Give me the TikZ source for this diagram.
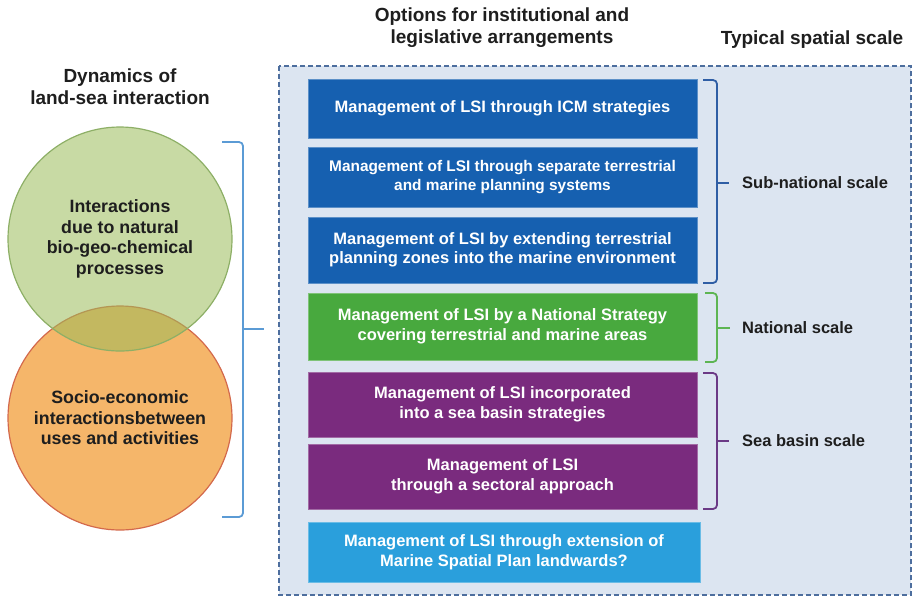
\documentclass[tikz,border=0pt]{standalone}
\usepackage{fontspec}
\setmainfont{Liberation Sans}
\usetikzlibrary{positioning}
\definecolor{lsiblue}{HTML}{1660B0}
\definecolor{lsigreen}{HTML}{48A93E}
\definecolor{lsipurple}{HTML}{7A2B7E}
\definecolor{lsicyan}{HTML}{2A9FDC}
\definecolor{panelfill}{HTML}{DCE5F1}
\definecolor{paneledge}{HTML}{4D6E9E}
\definecolor{natfill}{HTML}{9BBB59}
\definecolor{natedge}{HTML}{8DAF66}
\definecolor{socfill}{HTML}{F5B66A}
\definecolor{socedge}{HTML}{D3694C}
\definecolor{bracelight}{HTML}{5B9BD5}
\definecolor{bracedark}{HTML}{2F5EA5}
\definecolor{bracegreen}{HTML}{5DB553}
\definecolor{bracepurple}{HTML}{6B3A86}
\definecolor{inktext}{HTML}{1E1E1E}
\tikzset{
  optbox/.style={rectangle,fill=#1,draw=#1!70!white,line width=1pt,text=white,
    minimum width=389pt,inner sep=0pt,align=center,
    font=\fontsize{16.5}{19.5}\selectfont\bfseries},
  head/.style={text=inktext,align=center,inner sep=0pt,
    font=\fontsize{19}{22}\selectfont\bfseries},
  scalelbl/.style={text=inktext,anchor=west,inner sep=0pt,
    font=\fontsize{16.5}{19}\selectfont\bfseries},
  circ/.style={circle,minimum size=224pt,inner sep=0pt,line width=1.2pt,align=center,
    text=inktext,font=\fontsize{17.8}{20.5}\selectfont\bfseries},
  brc/.style={line width=1.8pt,rounded corners=4pt}
}
\begin{document}
\begin{tikzpicture}[x=1pt,y=-1pt]
\path[use as bounding box] (0,0) rectangle (912,598);
\node[head] (dyn) at (120,87) {Dynamics of\\land-sea interaction};
\node[head] (opt) at (502,28) {Options for institutional and\\legislative arrangements};
\node[head] (typ) at (812,40) {Typical spatial scale};
\draw[fill=panelfill,draw=paneledge,line width=1.3pt,dash pattern=on 5pt off 3pt] (279,66) rectangle (911,595);
\node[circ,fill=socfill,draw=socedge] (soc) at (120,418) {Socio-economic\\interactionsbetween\\uses and activities};
\node[circ,fill=natfill,fill opacity=0.55,text opacity=1,draw=natedge] (bgc) at (120,239) {Interactions\\due to natural\\bio-geo-chemical\\processes};
\draw[brc,bracelight] (222,142) -- (243,142) -- (243,517) -- (222,517);
\draw[line width=1.8pt,bracelight] (243,329) -- (264,329);
\node[optbox=lsiblue,minimum height=59pt] (icm) at (502.5,108.5) {Management of LSI through ICM strategies};
\node[optbox=lsiblue,minimum height=60pt,font=\fontsize{15.4}{19}\selectfont\bfseries] (sep) at (502.5,177) {Management of LSI through separate terrestrial\\and marine planning systems};
\node[optbox=lsiblue,minimum height=66pt] (ext) at (502.5,250) {Management of LSI by extending terrestrial\\planning zones into the marine environment};
\node[optbox=lsigreen,minimum height=67pt] (nat) at (502.5,326.5) {Management of LSI by a National Strategy\\covering terrestrial and marine areas};
\node[optbox=lsipurple,minimum height=65pt] (basin) at (502.5,404.5) {Management of LSI incorporated\\into a sea basin strategies};
\node[optbox=lsipurple,minimum height=65pt] (sect) at (502.5,476.5) {Management of LSI\\through a sectoral approach};
\node[optbox=lsicyan,minimum height=60pt,minimum width=392pt] (msp) at (504,552) {Management of LSI through extension of\\Marine Spatial Plan landwards?};
\node[scalelbl] (sub) at (742,183) {Sub-national scale};
\node[scalelbl] (natl) at (742,328) {National scale};
\node[scalelbl] (sea) at (742,441) {Sea basin scale};
\draw[brc,bracedark] (703,80) -- (717,80) -- (717,283) -- (703,283);
\draw[line width=1.8pt,bracedark] (717,183) -- ([xshift=-13pt]sub.west);
\draw[brc,bracegreen] (705,293) -- (717,293) -- (717,362) -- (705,362);
\draw[line width=1.8pt,bracegreen] (717,328) -- ([xshift=-12pt]natl.west);
\draw[brc,bracepurple] (703,373) -- (717,373) -- (717,509) -- (703,509);
\draw[line width=1.8pt,bracepurple] (717,441) -- ([xshift=-13pt]sea.west);
\end{tikzpicture}
\end{document}
